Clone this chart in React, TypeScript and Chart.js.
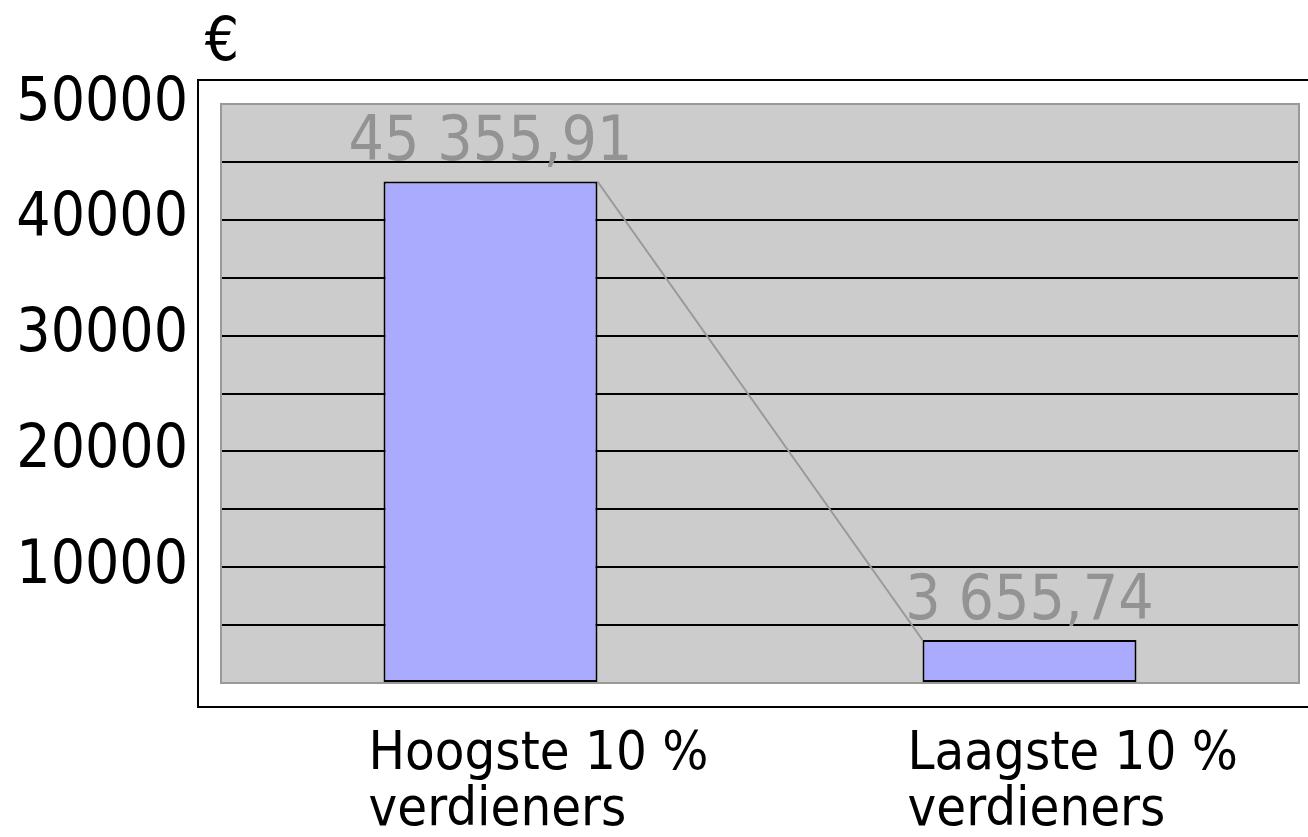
import React, { useEffect, useRef } from "react";
import { Chart, registerables } from "chart.js";

Chart.register(...registerables);

// ---- data ----
const categories: string[][] = [
  ["Hoogste 10 %", "verdieners"],
  ["Laagste 10 %", "verdieners"],
];
const values: number[] = [43310, 3710];
const valueLabels: string[] = ["45 355,91", "3 655,74"];
const yTickLabelValues: number[] = [10000, 20000, 30000, 40000, 50000];
const yMin = 0;
const yMax = 50000;
const yStep = 5000;
const unitLabel = "€";

const FONT = '"DejaVu Sans Condensed", "DejaVu Sans", sans-serif';

const decorPlugin = {
  id: "decor",
  beforeDraw(chart: any) {
    const { ctx, chartArea: a } = chart;
    ctx.save();
    ctx.fillStyle = "#cccccc";
    ctx.fillRect(a.left, a.top, a.right - a.left, a.bottom - a.top);
    ctx.restore();
  },
  beforeDatasetsDraw(chart: any) {
    const { ctx, chartArea: a } = chart;
    ctx.save();
    ctx.strokeStyle = "#999999";
    ctx.lineWidth = 2;
    ctx.strokeRect(a.left, a.top, a.right - a.left, a.bottom - a.top);
    ctx.restore();
  },
  afterDatasetsDraw(chart: any) {
    const { ctx } = chart;
    const meta = chart.getDatasetMeta(0);
    const bars = meta.data;
    ctx.save();
    // connector line between bar tops
    ctx.strokeStyle = "#999999";
    ctx.lineWidth = 2;
    ctx.beginPath();
    for (let i = 0; i < bars.length - 1; i++) {
      const b1 = bars[i];
      const b2 = bars[i + 1];
      ctx.moveTo(b1.x + b1.width / 2, b1.y);
      ctx.lineTo(b2.x - b2.width / 2, b2.y);
    }
    ctx.stroke();
    // value labels
    ctx.fillStyle = "#939393";
    ctx.font = `62px ${FONT}`;
    ctx.textAlign = "center";
    ctx.textBaseline = "alphabetic";
    bars.forEach((b: any, i: number) => {
      ctx.fillText(valueLabels[i], b.x, b.y - 21);
    });
    ctx.restore();
  },
  afterDraw(chart: any) {
    const { ctx, chartArea: a, width } = chart;
    ctx.save();
    ctx.strokeStyle = "#000000";
    ctx.lineWidth = 2;
    const fx = a.left - 23;
    const ft = a.top - 24;
    const fb = a.bottom + 24;
    ctx.beginPath();
    ctx.moveTo(width, ft);
    ctx.lineTo(fx, ft);
    ctx.lineTo(fx, fb);
    ctx.lineTo(width, fb);
    ctx.stroke();
    // unit label
    ctx.fillStyle = "#000000";
    ctx.font = `60px ${FONT}`;
    ctx.textAlign = "center";
    ctx.textBaseline = "alphabetic";
    ctx.fillText(unitLabel, a.left + 1, ft - 20);
    ctx.restore();
  },
};

export default function App() {
  const canvasRef = useRef<HTMLCanvasElement | null>(null);

  useEffect(() => {
    document.body.style.margin = "0";
    const canvas = canvasRef.current;
    if (!canvas) return;
    const chart = new Chart(canvas, {
      type: "bar",
      data: {
        labels: categories,
        datasets: [
          {
            data: values,
            backgroundColor: "#aaaaff",
            borderColor: "#000000",
            borderWidth: 2,
            borderSkipped: false,
            categoryPercentage: 1,
            barPercentage: 0.397,
          },
        ],
      },
      options: {
        animation: false,
        responsive: false,
        maintainAspectRatio: false,
        layout: { padding: { top: 104, right: 9, left: 0, bottom: 0 } },
        plugins: {
          legend: { display: false },
          tooltip: { enabled: false },
          title: { display: false },
        },
        scales: {
          x: {
            grid: { display: false, drawTicks: false },
            border: { display: false },
            afterFit: (s: any) => {
              s.height = 154;
              s.paddingLeft = 0;
              s.paddingRight = 0;
            },
            ticks: {
              color: "#000000",
              font: { family: FONT, size: 54, lineHeight: 1.04 },
              align: "start",
              labelOffset: -122,
              padding: 44,
              maxRotation: 0,
              autoSkip: false,
            },
          },
          y: {
            min: yMin,
            max: yMax,
            grid: {
              drawTicks: false,
              lineWidth: 2,
              color: (c: any) =>
                c.tick && (c.tick.value === yMin || c.tick.value === yMax)
                  ? "#999999"
                  : "#000000",
            },
            border: { display: false },
            afterFit: (s: any) => {
              s.width = 221;
              s.paddingTop = 0;
              s.paddingBottom = 0;
            },
            ticks: {
              stepSize: yStep,
              color: "#000000",
              font: { family: FONT, size: 60 },
              padding: 33,
              autoSkip: false,
              callback: (v: any) =>
                yTickLabelValues.includes(Number(v)) ? String(v) : "",
            },
          },
        },
      },
      plugins: [decorPlugin],
    });
    return () => chart.destroy();
  }, []);

  return (
    <div style={{ width: 1308, height: 837 }}>
      <canvas ref={canvasRef} width={1308} height={837} style={{ display: "block" }} />
    </div>
  );
}
